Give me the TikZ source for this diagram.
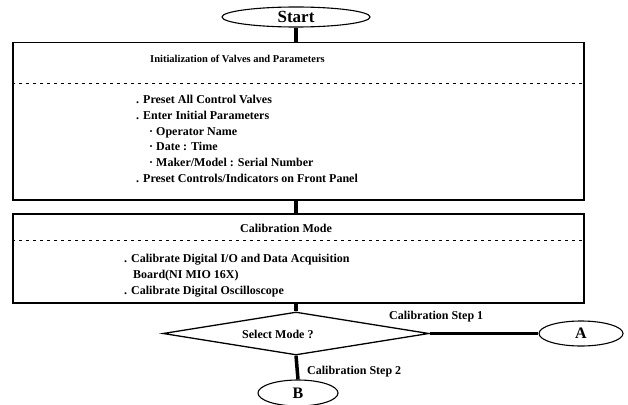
\documentclass[tikz,border=0pt]{standalone}
\usepackage{fontspec}
\setmainfont{Liberation Serif}
\usetikzlibrary{shapes.geometric}
\begin{document}
\begin{tikzpicture}[x=1pt,y=-1pt,
  txt/.style={inner sep=0pt,anchor=base west,font=\fontsize{12}{14}\selectfont\bfseries},
  boxstyle/.style={draw,line width=1.5pt,inner sep=0pt,anchor=north west},
  oval/.style={draw,ellipse,line width=1.1pt,inner sep=0pt},
  thickline/.style={line width=3.5pt},
  dashsep/.style={line width=0.8pt,dash pattern=on 3pt off 4pt}]
\useasboundingbox (0,0) rectangle (628,404);
% start
\node[oval,minimum width=148pt,minimum height=20pt,font=\fontsize{17}{18}\selectfont\bfseries] (start) at (296,17) {Start};
% box 1
\node[boxstyle,minimum width=571pt,minimum height=157pt] (box1) at (12,42) {};
\node[txt,font=\fontsize{10.5}{12}\selectfont\bfseries] (t1) at (150,63) {Initialization of Valves and Parameters};
\coordinate (d1l) at (12,83); \coordinate (d1r) at (583,83);
\draw[dashsep] (d1l) -- (d1r);
\node[txt] (l1) at (136,103) {. Preset All Control Valves};
\node[txt] (l2) at (136,119) {. Enter Initial Parameters};
\node[txt] (l3) at (149,135) {\textperiodcentered\ Operator Name};
\node[txt] (l4) at (149,150) {\textperiodcentered\ Date : Time};
\node[txt] (l5) at (149,166) {\textperiodcentered\ Maker/Model : Serial Number};
\node[txt] (l6) at (136,182) {. Preset Controls/Indicators on Front Panel};
% box 2
\node[boxstyle,minimum width=571pt,minimum height=89pt] (box2) at (12,213) {};
\node[txt] (t2) at (240,232) {Calibration Mode};
\coordinate (d2l) at (12,240); \coordinate (d2r) at (583,240);
\draw[dashsep] (d2l) -- (d2r);
\node[txt] (m1) at (124,262) {. Calibrate Digital I/O and Data Acquisition};
\node[txt] (m2) at (133,278) {Board(NI MIO 16X)};
\node[txt] (m3) at (124,294) {. Calibrate Digital Oscilloscope};
% decision
\node[draw,diamond,aspect=6.2,line width=1.3pt,inner sep=0pt,minimum width=266pt,minimum height=43pt] (dec) at (296,333.5) {};
\node[txt] (sel) at (242,338) {Select Mode ?};
\node[oval,minimum width=84pt,minimum height=25pt,font=\fontsize{16}{18}\selectfont\bfseries] (A) at (581,333.5) {A};
\node[oval,minimum width=80pt,minimum height=26pt,font=\fontsize{16}{18}\selectfont\bfseries] (B) at (298,393) {B};
\node[txt] (s1) at (389,319) {Calibration Step 1};
\node[txt] (s2) at (307,374) {Calibration Step 2};
% connectors
\draw[thickline] (start.south) -- (start.south |- box1.north);
\draw[thickline] (box1.south -| start.south) -- (box2.north -| start.south);
\draw[thickline] (box2.south -| dec.north) -- (dec.north);
\draw[thickline] (dec.east) -- (A.west);
\draw[thickline] (dec.south) -- (B.north);
\end{tikzpicture}
\end{document}
